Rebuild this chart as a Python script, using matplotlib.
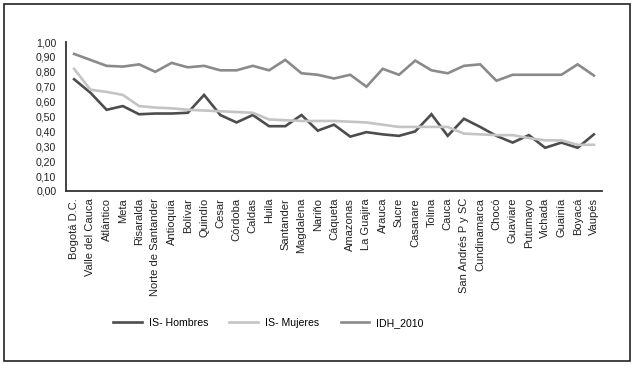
import matplotlib
matplotlib.use("Agg")
import matplotlib.pyplot as plt
from matplotlib.patches import Rectangle

plt.rcParams['font.family'] = ['Liberation Sans', 'DejaVu Sans']

categories = ["Bogotá D.C.", "Valle del Cauca", "Atlántico", "Meta", "Risaralda",
              "Norte de Santander", "Antioquia", "Bolívar", "Quindío", "Cesar",
              "Córdoba", "Caldas", "Huila", "Santander", "Magdalena", "Nariño",
              "Cáqueta", "Amazonas", "La Guajira", "Arauca", "Sucre", "Casanare",
              "Tolina", "Cauca", "San Andrés P y SC", "Cundinamarca", "Chocó",
              "Guaviare", "Putumayo", "Vichada", "Guainía", "Boyacá", "Vaupés"]

is_hombres = [0.75, 0.66, 0.545, 0.57, 0.515, 0.52, 0.52, 0.525, 0.645, 0.51,
              0.46, 0.51, 0.435, 0.435, 0.51, 0.405, 0.445, 0.365, 0.395, 0.38,
              0.37, 0.40, 0.515, 0.37, 0.485, 0.43, 0.37, 0.325, 0.375, 0.29,
              0.325, 0.29, 0.38]

is_mujeres = [0.82, 0.68, 0.665, 0.645, 0.57, 0.56, 0.555, 0.545, 0.54, 0.535,
              0.53, 0.525, 0.48, 0.475, 0.47, 0.47, 0.47, 0.465, 0.46, 0.445,
              0.43, 0.43, 0.43, 0.43, 0.385, 0.38, 0.375, 0.375, 0.355, 0.34,
              0.34, 0.31, 0.31]

idh_2010 = [0.92, 0.88, 0.84, 0.835, 0.85, 0.80, 0.86, 0.83, 0.84, 0.81,
            0.81, 0.84, 0.81, 0.88, 0.79, 0.78, 0.755, 0.78, 0.70, 0.82,
            0.78, 0.875, 0.81, 0.79, 0.84, 0.85, 0.74, 0.78, 0.78, 0.78,
            0.78, 0.85, 0.775]

yticks = [0.0, 0.1, 0.2, 0.3, 0.4, 0.5, 0.6, 0.7, 0.8, 0.9, 1.0]
ytick_labels = [f"{v:.2f}".replace(".", ",") for v in yticks]

W, H = 633, 366
fig = plt.figure(figsize=(W / 100, H / 100), dpi=100)
fig.patch.set_facecolor("white")

left, right, top, bottom = 66, 602, 42, 191
ax = fig.add_axes([left / W, 1 - bottom / H, (right - left) / W, (bottom - top) / H])

x = list(range(len(categories)))
ax.plot(x, is_hombres, color="#4d4d4d", lw=1.9, label="IS- Hombres", solid_joinstyle="miter")
ax.plot(x, is_mujeres, color="#c4c4c4", lw=1.9, label="IS- Mujeres", solid_joinstyle="miter")
ax.plot(x, idh_2010, color="#8a8a8a", lw=1.9, label="IDH_2010", solid_joinstyle="miter")

ax.set_xlim(-0.5, len(categories) - 0.5)
ax.set_ylim(0, 1.0)
ax.set_yticks(yticks)
ax.set_yticklabels(ytick_labels, fontsize=7.6, color="#222222")
ax.set_xticks(x)
ax.set_xticklabels(categories, rotation=90, fontsize=8, color="#222222")
ax.tick_params(axis="both", length=0)
ax.tick_params(axis="y", pad=7)
ax.tick_params(axis="x", pad=5)

for s in ["top", "right"]:
    ax.spines[s].set_visible(False)
for s in ["left", "bottom"]:
    ax.spines[s].set_color("#333333")
    ax.spines[s].set_linewidth(1.3)

leg = fig.legend(loc="center left", bbox_to_anchor=(113 / W, 1 - 323 / H),
                 ncol=3, frameon=False, fontsize=7.6, handlelength=2.7,
                 handletextpad=0.7, columnspacing=2.0, borderpad=0, borderaxespad=0)

fig.patches.append(Rectangle((3.5 / W, 1 - 361 / H), (630 - 3.5) / W, (361 - 3.5) / H,
                             transform=fig.transFigure, fill=False,
                             edgecolor="#222222", linewidth=1.2))

fig.savefig("out.png", dpi=100)
